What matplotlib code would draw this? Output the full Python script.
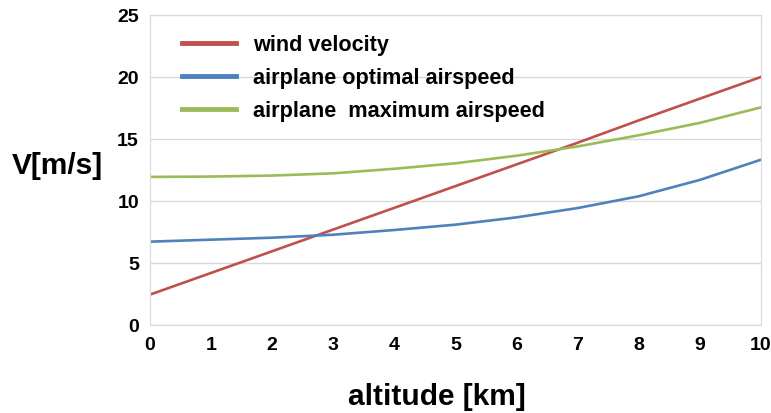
import matplotlib

matplotlib.use('Agg')
import matplotlib.pyplot as plt

altitude = [0, 1, 2, 3, 4, 5, 6, 7, 8, 9, 10]
wind_velocity = [2.45, 4.2, 5.95, 7.7, 9.45, 11.2, 12.95, 14.7, 16.5, 18.25, 20.0]
optimal_airspeed = [6.72, 6.88, 7.04, 7.28, 7.66, 8.09, 8.68, 9.43, 10.38, 11.7, 13.33]
maximum_airspeed = [11.94, 11.97, 12.05, 12.23, 12.6, 13.04, 13.65, 14.4, 15.3, 16.3, 17.55]

series = [
    ('wind velocity', wind_velocity, '#c0504d'),
    ('airplane optimal airspeed', optimal_airspeed, '#4f81bd'),
    ('airplane  maximum airspeed', maximum_airspeed, '#9bbb59'),
]

plt.rcParams['font.family'] = ['Liberation Sans', 'DejaVu Sans']
plt.rcParams['font.weight'] = 'bold'

fig = plt.figure(figsize=(7.71, 4.14), dpi=100)
ax = fig.add_axes([0.1946, 0.2126, 0.7924, 0.7488])

for label, values, color in series:
    ax.plot(altitude, values, color=color, linewidth=1.9, label=label)

ax.set_xlim(0, 10)
ax.set_ylim(0, 25)
ax.set_xticks(altitude)
ax.set_yticks([0, 5, 10, 15, 20, 25])
ax.tick_params(length=0, labelsize=14, pad=8)
for lab in ax.get_xticklabels() + ax.get_yticklabels():
    lab.set_fontweight('bold')
ax.grid(axis='y', color='#d9d9d9', linewidth=1)
ax.set_axisbelow(True)
for sp in ax.spines.values():
    sp.set_color('#d9d9d9')

# axis titles sit a bit left of centre in the original
fig.text(0.566, 0.041, 'altitude [km]', fontsize=21.5, fontweight='bold', ha='center', va='center')
fig.text(0.075, 0.60, 'V[m/s]', fontsize=21.5, fontweight='bold', ha='center', va='center')

leg = ax.legend(loc='upper left', frameon=False, fontsize=15.6, handlelength=2.5,
                handletextpad=0.8, labelspacing=0.55, bbox_to_anchor=(0.02, 1.0))
for t in leg.get_texts():
    t.set_fontweight('bold')
for line in leg.get_lines():
    line.set_linewidth(3.5)

fig.savefig('out.png', dpi=100)
